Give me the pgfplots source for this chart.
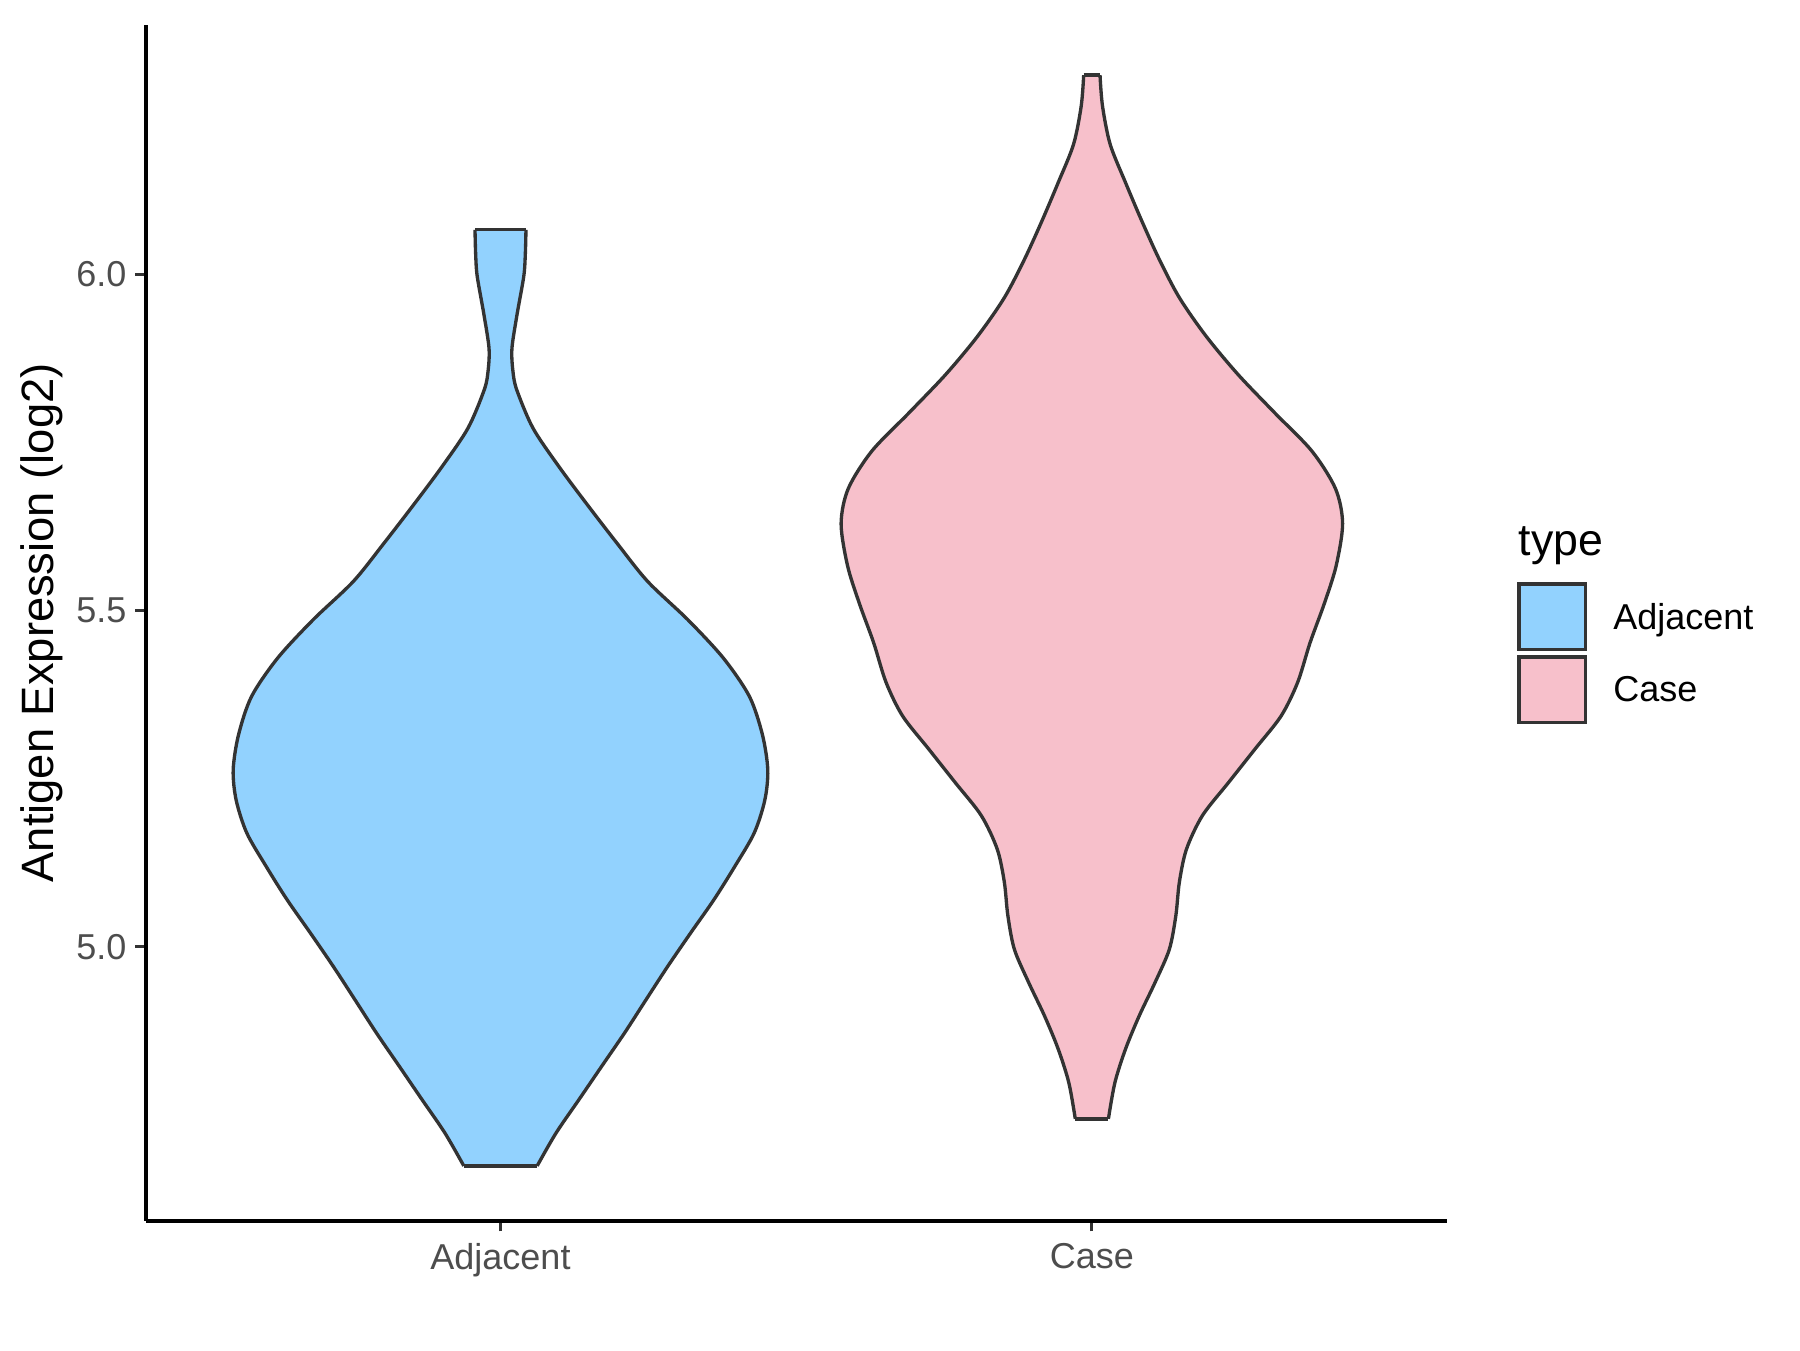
\documentclass[border=0pt]{standalone}
\usepackage{fontspec}
\setmainfont{Liberation Sans}
\usepackage{pgfplots}
\pgfplotsset{compat=1.18}
\usepgfplotslibrary{fillbetween}
\usepackage{pgfplotstable}
\definecolor{adjcol}{HTML}{92D2FE}
\definecolor{casecol}{HTML}{F7C0CB}
\definecolor{edgec}{HTML}{333333}
\definecolor{tickc}{HTML}{4D4D4D}

% violin outlines: value v and half width w (in x units), bottom to top
\pgfplotstableread{
v w
4.674 0.062
4.723 0.094
4.773 0.133
4.822 0.171
4.872 0.210
4.921 0.246
4.971 0.283
5.021 0.322
5.070 0.361
5.119 0.396
5.169 0.429
5.218 0.447
5.263 0.452
5.315 0.443
5.372 0.421
5.429 0.377
5.486 0.317
5.543 0.249
5.600 0.197
5.657 0.147
5.714 0.0987
5.771 0.055
5.828 0.0275
5.856 0.021
5.890 0.0194
5.941 0.0282
5.997 0.0394
6.030 0.042
6.066 0.0431
}\adjdata

\pgfplotstableread{
v w
4.744 0.028
4.798 0.039
4.848 0.057
4.897 0.080
4.947 0.107
4.996 0.131
5.046 0.142
5.096 0.148
5.145 0.160
5.195 0.187
5.244 0.231
5.294 0.276
5.343 0.320
5.393 0.348
5.452 0.369
5.510 0.393
5.566 0.413
5.629 0.424
5.681 0.412
5.737 0.372
5.794 0.309
5.851 0.247
5.908 0.193
5.965 0.148
6.022 0.114
6.079 0.0845
6.136 0.057
6.193 0.031
6.250 0.018
6.296 0.0138
}\casedata

\begin{document}
\begin{tikzpicture}
\path (0,0) rectangle (540pt,405pt);
\begin{axis}[
  at={(43.7pt,38.8pt)}, anchor=south west,
  scale only axis, width=390.3pt, height=358.7pt,
  xmin=0.4, xmax=2.6, ymin=4.5926, ymax=6.3705,
  axis lines=left,
  axis line style={-, black, line width=1.1pt},
  xtick={1,2}, xticklabels={Adjacent,Case},
  ytick={5,5.5,6}, yticklabels={5.0,5.5,6.0},
  tick align=outside, major tick length=3.2pt,
  tick style={edgec, line width=0.9pt},
  ticklabel style={font=\fontsize{10.8}{13}\selectfont, text=tickc},
  yticklabel style={inner sep=2.4pt},
  ylabel={Antigen Expression (log2)},
  ylabel style={font=\fontsize{13.6}{16}\selectfont, at={(axis description cs:-0.080,0.5)}, anchor=center},
  clip=false,
  legend style={at={(1.0543,0.5338)}, anchor=north west, draw=none, fill=none,
    inner sep=0pt, outer sep=0pt, row sep=1.2pt, column sep=7.9pt,
    font=\fontsize{10.8}{13}\selectfont, nodes={inner sep=0pt}},
  legend cell align=left,
  legend image code/.code={\draw[#1, line width=1pt] (0pt,-9.38pt) rectangle (19.9pt,10.32pt);},
]
\addplot[name path=aR, draw=edgec, line width=1pt, smooth, tension=0.5, forget plot]
  table[x expr=1+\thisrow{w}, y=v] {\adjdata};
\addplot[name path=aL, draw=edgec, line width=1pt, smooth, tension=0.5, forget plot]
  table[x expr=1-\thisrow{w}, y=v] {\adjdata};
\addplot[fill=adjcol, draw=none, forget plot] fill between[of=aR and aL, reverse=true];
\addplot[draw=edgec, line width=1pt, forget plot] coordinates {(0.9569,6.066) (1.0431,6.066)};
\addplot[draw=edgec, line width=1pt, forget plot] coordinates {(0.938,4.674) (1.062,4.674)};

\addplot[name path=cR, draw=edgec, line width=1pt, smooth, tension=0.5, forget plot]
  table[x expr=2+\thisrow{w}, y=v] {\casedata};
\addplot[name path=cL, draw=edgec, line width=1pt, smooth, tension=0.5, forget plot]
  table[x expr=2-\thisrow{w}, y=v] {\casedata};
\addplot[fill=casecol, draw=none, forget plot] fill between[of=cR and cL, reverse=true];
\addplot[draw=edgec, line width=1pt, forget plot] coordinates {(1.9862,6.296) (2.0138,6.296)};
\addplot[draw=edgec, line width=1pt, forget plot] coordinates {(1.972,4.744) (2.028,4.744)};

\addlegendimage{fill=adjcol, draw=edgec}
\addlegendentry{Adjacent}
\addlegendimage{fill=casecol, draw=edgec}
\addlegendentry{Case}
\end{axis}
\node[anchor=base west, inner sep=0pt, font=\fontsize{13.4}{16}\selectfont] at (455.4pt,238.5pt) {type};
\end{tikzpicture}
\end{document}
